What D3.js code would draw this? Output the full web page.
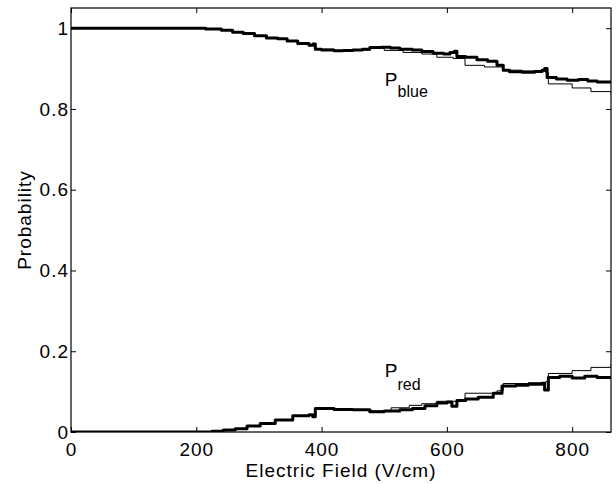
<!DOCTYPE html>
<html>
<head>
<meta charset="utf-8">
<script src="https://cdn.jsdelivr.net/npm/d3@7"></script>
<style>
  body { margin: 0; background: #fff; }
  text { font-family: "Liberation Sans", Arial, Helvetica, sans-serif; fill: #000; }
</style>
</head>
<body>
<div id="chart"></div>
<script>
// Chart size (matches the reference window)
const width = 616;
const height = 484;
const margin = { top: 8, right: 5, bottom: 52, left: 71 };
const plotW = width - margin.left - margin.right;
const plotH = height - margin.top - margin.bottom;

// Axis ticks
const xTicks = [0, 200, 400, 600, 800];
const yTicks = [0, 0.2, 0.4, 0.6, 0.8, 1];
const yTickLabels = ["0", "0.2", "0.4", "0.6", "0.8", "1"];

// P_blue, measured (thick) - [field V/cm, probability]
const blueMeasured = [
    [0, 1.0], [200, 1.0], [215, 0.998], [240, 0.995], [258, 0.99], [275, 0.987],
    [293, 0.981], [312, 0.976], [330, 0.974], [345, 0.968], [362, 0.962], [380, 0.958],
    [386, 0.961], [390, 0.948], [400, 0.946], [420, 0.944], [434, 0.945], [450, 0.946],
    [465, 0.948], [477, 0.952], [495, 0.953], [510, 0.951], [525, 0.948], [545, 0.946],
    [560, 0.942], [578, 0.938], [595, 0.936], [605, 0.94], [612, 0.943], [616, 0.93],
    [630, 0.928], [648, 0.922], [665, 0.918], [680, 0.908], [690, 0.896], [700, 0.892],
    [720, 0.891], [740, 0.893], [752, 0.896], [756, 0.9], [760, 0.878], [775, 0.874],
    [792, 0.871], [810, 0.873], [825, 0.869], [840, 0.867], [862, 0.866]
];

// P_blue, calculated (thin)
const blueModel = [
    [0, 1.0], [200, 1.0], [215, 0.998], [240, 0.995], [258, 0.99], [275, 0.987],
    [293, 0.981], [312, 0.976], [330, 0.974], [345, 0.968], [362, 0.962], [380, 0.958],
    [390, 0.948], [420, 0.944], [450, 0.946], [477, 0.95], [500, 0.945], [530, 0.94],
    [560, 0.936], [584, 0.928], [610, 0.925], [629, 0.908], [660, 0.904], [690, 0.896],
    [720, 0.894], [758, 0.89], [762, 0.862], [800, 0.852], [830, 0.843], [862, 0.836]
];

// P_red, measured (thick)
const redMeasured = [
    [0, 0], [200, 0], [225, 0.002], [243, 0.005], [262, 0.008], [281, 0.015],
    [302, 0.021], [326, 0.03], [354, 0.04], [380, 0.043], [386, 0.038], [390, 0.058],
    [420, 0.056], [450, 0.055], [477, 0.05], [500, 0.052], [525, 0.055], [545, 0.058],
    [565, 0.065], [584, 0.072], [600, 0.074], [608, 0.064], [616, 0.078], [630, 0.082],
    [650, 0.086], [674, 0.096], [688, 0.114], [710, 0.116], [730, 0.118], [752, 0.121],
    [756, 0.104], [762, 0.135], [780, 0.138], [800, 0.134], [820, 0.138], [840, 0.135],
    [862, 0.138]
];

// P_red, calculated (thin)
const redModel = [
    [0, 0], [200, 0], [225, 0.002], [243, 0.005], [262, 0.008], [281, 0.015],
    [302, 0.021], [326, 0.03], [354, 0.04], [380, 0.043], [390, 0.056], [420, 0.055],
    [450, 0.054], [480, 0.052], [511, 0.06], [540, 0.066], [560, 0.07], [584, 0.076],
    [629, 0.096], [680, 0.102], [690, 0.12], [730, 0.122], [758, 0.125], [762, 0.145],
    [800, 0.152], [830, 0.16], [862, 0.168]
];

const svg = d3.select("#chart")
    .append("svg")
    .attr("width", width)
    .attr("height", height);

const g = svg.append("g")
    .attr("transform", `translate(${margin.left},${margin.top})`);

const x = d3.scaleLinear().domain([0, 862]).range([0, plotW]);
const y = d3.scaleLinear().domain([0, 1.05]).range([plotH, 0]);

// clip the curves to the axes box
g.append("clipPath").attr("id", "clip")
    .append("rect").attr("width", plotW).attr("height", plotH);

const line = d3.line()
    .x(d => x(d[0]))
    .y(d => y(d[1]))
    .curve(d3.curveStepAfter);

const curves = g.append("g").attr("clip-path", "url(#clip)");

// thin lines first, thick measured lines on top
[blueModel, redModel].forEach(s => {
    curves.append("path")
        .datum(s)
        .attr("d", line)
        .attr("fill", "none")
        .attr("stroke", "#000")
        .attr("stroke-width", 1);
});
[blueMeasured, redMeasured].forEach(s => {
    curves.append("path")
        .datum(s)
        .attr("d", line)
        .attr("fill", "none")
        .attr("stroke", "#000")
        .attr("stroke-width", 3)
        .attr("stroke-linejoin", "round");
});

// axes, MATLAB style: ticks pointing inward on all four sides
const fontSize = "19px";

const xAxis = g.append("g")
    .attr("transform", `translate(0,${plotH})`)
    .call(d3.axisBottom(x).tickValues(xTicks).tickSizeInner(-5).tickSizeOuter(0).tickPadding(11));
xAxis.selectAll("text").style("font-size", fontSize).attr("letter-spacing", 1);

const yAxis = g.append("g")
    .call(d3.axisLeft(y).tickValues(yTicks).tickFormat((d, i) => yTickLabels[i])
        .tickSizeInner(-5).tickSizeOuter(0).tickPadding(2));
yAxis.selectAll("text").style("font-size", fontSize).attr("letter-spacing", 1);

g.append("g")
    .call(d3.axisTop(x).tickValues(xTicks).tickSizeInner(-5).tickSizeOuter(0).tickFormat(""));
g.append("g")
    .attr("transform", `translate(${plotW},0)`)
    .call(d3.axisRight(y).tickValues(yTicks).tickSizeInner(-5).tickSizeOuter(0).tickFormat(""));

g.selectAll(".domain").remove();
g.selectAll(".tick line").attr("stroke", "#000");

// axes box
g.append("rect")
    .attr("width", plotW)
    .attr("height", plotH)
    .attr("fill", "none")
    .attr("stroke", "#000")
    .attr("stroke-width", 1.2);

// axis titles
svg.append("text")
    .attr("x", margin.left + plotW / 2)
    .attr("y", 477)
    .attr("text-anchor", "middle")
    .attr("letter-spacing", 1)
    .style("font-size", fontSize)
    .text("Electric Field (V/cm)");

svg.append("text")
    .attr("transform", `translate(31,${margin.top + plotH / 2}) rotate(-90)`)
    .attr("text-anchor", "middle")
    .attr("letter-spacing", 1)
    .style("font-size", fontSize)
    .text("Probability");

// curve labels P_blue / P_red
function curveLabel(fx, py, sub, subDy) {
    const t = g.append("text")
        .attr("x", x(fx))
        .attr("y", y(py))
        .style("font-size", fontSize);
    t.append("tspan").text("P");
    t.append("tspan").attr("dy", subDy).style("font-size", "16px").text(sub);
}
curveLabel(501, 0.856, "blue", 11);
curveLabel(501, 0.136, "red", 13);
</script>
</body>
</html>
